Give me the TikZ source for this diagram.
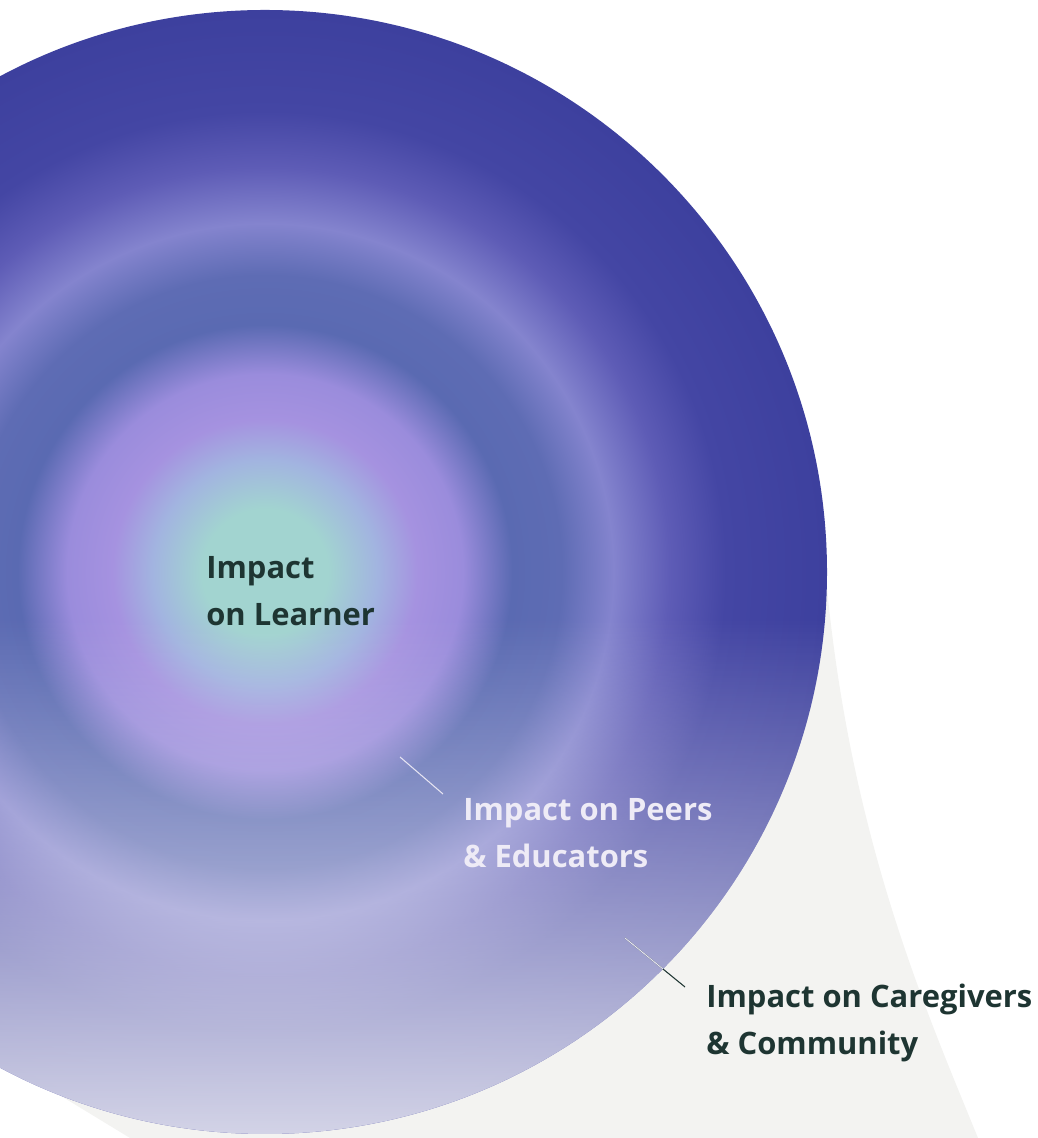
\documentclass[tikz,border=0pt]{standalone}
\usepackage{fontspec}
\setmainfont{Open Sans}
\usetikzlibrary{fadings}

\definecolor{inkdark}{HTML}{1E3532}
\definecolor{inklight}{HTML}{EEEBF6}
\definecolor{lineglow}{HTML}{E6E4F2}
\definecolor{shadowgray}{HTML}{F3F3F1}
\definecolor{haze}{HTML}{E6E6F0}
\definecolor{coreteal}{HTML}{A2D4D0}
\definecolor{tealilac}{HTML}{A2B4E0}
\definecolor{lilac}{HTML}{A592E0}
\definecolor{lilacdeep}{HTML}{9A8CDC}
\definecolor{slate}{HTML}{5A6AB2}
\definecolor{slatesoft}{HTML}{5E6CB4}
\definecolor{mist}{HTML}{8484CE}
\definecolor{dusk}{HTML}{5E5CB6}
\definecolor{rimblue}{HTML}{4446A4}
\definecolor{rimnavy}{HTML}{3D409E}

% rings of the disc, 25bp = rim
\pgfdeclareradialshading{impactrings}{\pgfpointorigin}{%
  color(0bp)=(coreteal); color(2.8bp)=(coreteal); color(5bp)=(tealilac);
  color(6.8bp)=(lilac); color(8.8bp)=(lilacdeep); color(11bp)=(slate);
  color(13.2bp)=(slatesoft); color(15.5bp)=(mist); color(18bp)=(dusk);
  color(20.5bp)=(rimblue); color(25bp)=(rimnavy); color(50bp)=(rimnavy)}
\tikzfading[name=lowfade,top color=transparent!100,bottom color=transparent!0]

\begin{document}
\begin{tikzpicture}[
    x=0.02cm,y=0.02cm,
    impacttext/.style={font=\fontsize{17.6}{27.2}\selectfont\bfseries,
        align=left,anchor=base west,inner sep=0pt},
    leader/.style={line width=0.6pt}]
    \useasboundingbox (0,0) rectangle (1037,1138);
    \clip (0,0) rectangle (1037,1138);
    % shadow cast under the disc
    \fill[shadowgray] (20,67) -- (130,0) -- (978,0)
        .. controls (925,130) and (850,300) .. (826,560) -- (265,566) -- cycle;
    \shade[shading=impactrings] (265,566) circle (562);
    \begin{scope}
        \clip (265,566) circle (562);
        \fill[haze,path fading=lowfade] (-300,-60) rectangle (830,520);
    \end{scope}
    % leaders
    \coordinate (peers-in) at (400,381);
    \coordinate (peers-out) at (443,344);
    \coordinate (care-in) at (625,200);
    \coordinate (care-out) at (685,151);
    \draw[leader,lineglow] (peers-in) -- (peers-out);
    \draw[leader,inkdark] (care-in) -- (care-out);
    \begin{scope}
        \clip (265,566) circle (562);
        \draw[leader,lineglow] (care-in) -- (care-out);
    \end{scope}
    % base west sits on the last line
    \node[impacttext,text=inkdark] (learner) at (206,512) {Impact\\on Learner};
    \node[impacttext,text=inklight] (peers) at (463,270) {Impact on Peers\\\& Educators};
    \node[impacttext,text=inkdark] (care) at (706,83) {Impact on Caregivers\\\& Community};
\end{tikzpicture}
\end{document}
